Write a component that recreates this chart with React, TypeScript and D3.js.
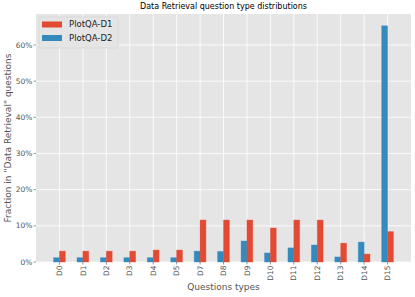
import * as d3 from 'd3'

const categories = ['D0', 'D1', 'D2', 'D3', 'D4', 'D5', 'D7', 'D8', 'D9', 'D10', 'D11', 'D12', 'D13', 'D14', 'D15']
const plotqaD1 = [0.030, 0.030, 0.030, 0.030, 0.033, 0.033, 0.116, 0.116, 0.116, 0.094, 0.116, 0.116, 0.052, 0.022, 0.084]
const plotqaD2 = [0.012, 0.012, 0.012, 0.012, 0.012, 0.012, 0.030, 0.029, 0.058, 0.025, 0.039, 0.047, 0.014, 0.055, 0.653]
const yTicks = [0, 0.1, 0.2, 0.3, 0.4, 0.5, 0.6]

const W = 415
const H = 297
const margin = { top: 14, right: 4, bottom: 35, left: 36 }
const RED = '#E24A33'
const BLUE = '#348ABD'
const FONT = 'DejaVu Sans, sans-serif'

export default function App() {
  const x = d3.scaleLinear()
    .domain([-1, categories.length])
    .range([margin.left, W - margin.right])

  const yMax = d3.max([...plotqaD1, ...plotqaD2])! * 1.05
  const y = d3.scaleLinear()
    .domain([0, yMax])
    .range([H - margin.bottom, margin.top])

  const bw = x(0.25) - x(0)
  const fmt = d3.format('.0%')

  return (
    <svg width={W} height={H} style={{ position: 'absolute', left: 0, top: 0 }} fontFamily={FONT}>
      <rect x={0} y={0} width={W} height={H} fill="white" />
      {/* zone du graphique */}
      <rect x={margin.left} y={margin.top} width={W - margin.left - margin.right}
        height={H - margin.top - margin.bottom} fill="#E5E5E5" />

      {/* grille */}
      {yTicks.map(t => (
        <line key={'gy' + t} x1={margin.left} x2={W - margin.right} y1={y(t)} y2={y(t)}
          stroke="white" strokeWidth={0.8} />
      ))}
      {categories.map((c, i) => (
        <line key={'gx' + c} x1={x(i)} x2={x(i)} y1={margin.top} y2={H - margin.bottom}
          stroke="white" strokeWidth={0.8} />
      ))}

      {/* barres */}
      {categories.map((c, i) => (
        <g key={'b' + c}>
          <rect x={x(i) - bw} y={y(plotqaD2[i])} width={bw} height={y(0) - y(plotqaD2[i])}
            fill={BLUE} stroke={BLUE} strokeOpacity={0.45} strokeWidth={0.8} />
          <rect x={x(i)} y={y(plotqaD1[i])} width={bw} height={y(0) - y(plotqaD1[i])}
            fill={RED} stroke={RED} strokeOpacity={0.45} strokeWidth={0.8} />
        </g>
      ))}

      {/* axe y */}
      {yTicks.map(t => (
        <g key={'ty' + t}>
          <line x1={margin.left - 2.5} x2={margin.left} y1={y(t)} y2={y(t)} stroke="#555" strokeWidth={0.6} />
          <text x={margin.left - 3.5} y={y(t)} dy="0.35em" textAnchor="end" fontSize={7.5} fill="#555">{fmt(t)}</text>
        </g>
      ))}

      {/* axe x */}
      {categories.map((c, i) => (
        <g key={'tx' + c}>
          <line x1={x(i)} x2={x(i)} y1={H - margin.bottom} y2={H - margin.bottom + 2.5} stroke="#555" strokeWidth={0.6} />
          <text transform={`translate(${x(i)},${H - margin.bottom + 3.5}) rotate(-90)`} dy="0.35em"
            textAnchor="end" fontSize={7.5} fill="#555">{c}</text>
        </g>
      ))}

      <text x={(margin.left + W - margin.right) / 2} y={H - 7} textAnchor="middle" fontSize={9} fill="#555">Questions types</text>
      <text transform={`translate(10.5,${(margin.top + H - margin.bottom) / 2}) rotate(-90)`} textAnchor="middle"
        fontSize={9} fill="#555">Fraction in "Data Retrieval" questions</text>
      <text x={(margin.left + W - margin.right) / 2} y={9} textAnchor="middle" fontSize={8} fill="black">Data Retrieval question type distributions</text>

      {/* légende */}
      <g>
        <rect x={39} y={17} width={79} height={31} rx={2} fill="#E5E5E5" stroke="#D0D0D0" strokeWidth={0.6} />
        <rect x={42} y={21.5} width={20} height={6} fill={RED} />
        <text x={69} y={24.5} dy="0.35em" fontSize={8.5} fill="#222">PlotQA-D1</text>
        <rect x={42} y={35} width={20} height={6} fill={BLUE} />
        <text x={69} y={38} dy="0.35em" fontSize={8.5} fill="#222">PlotQA-D2</text>
      </g>
    </svg>
  )
}
